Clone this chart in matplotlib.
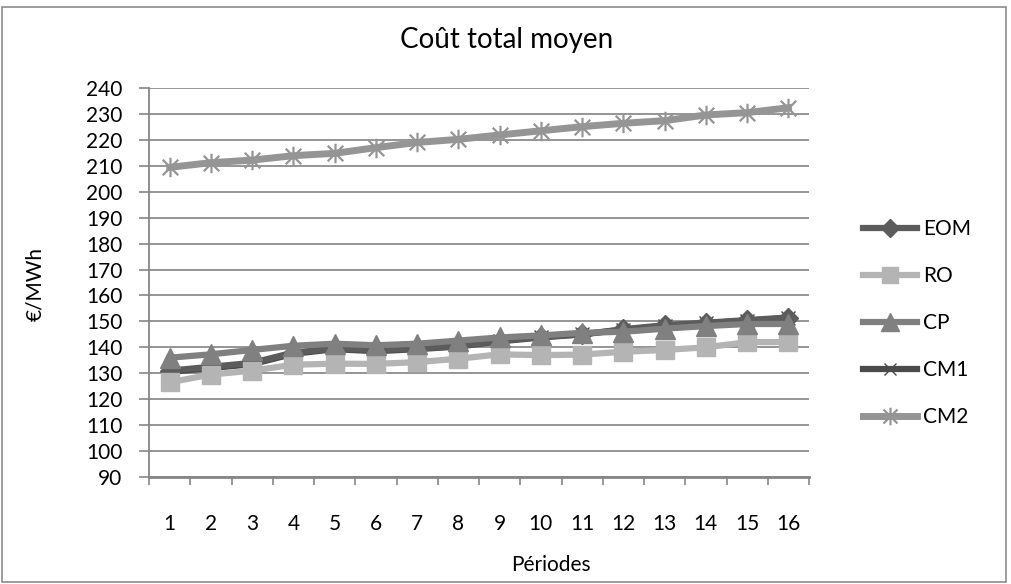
import matplotlib.pyplot as plt
import numpy as np
from matplotlib.path import Path
from matplotlib.patches import Rectangle

plt.rcParams['font.family'] = ['Lato', 'DejaVu Sans']

periodes = list(range(1, 17))
eom = [131, 132.5, 134, 138, 139.5, 139, 139.5, 140.5, 142.5, 144, 145, 147, 148.5, 149.5, 150.5, 151.5]
ro = [126.5, 129.5, 131, 133.3, 133.7, 133.6, 134.3, 135.6, 137.3, 137, 137.2, 138.3, 139, 140, 142, 142]
cp = [136, 137.3, 139, 140.6, 141.4, 140.8, 141.4, 142.6, 143.8, 144.6, 145.6, 146, 147.2, 148.2, 149, 149]
cm1 = [130.5, 132, 133.5, 137.5, 139.3, 138.5, 139.3, 140.3, 142.3, 143.8, 145, 146.8, 148.3, 149.3, 150.3, 151.3]
cm2 = [209.4, 211.2, 212.2, 213.9, 214.8, 217, 219, 220.2, 221.9, 223.5, 225.1, 226.4, 227.4, 229.6, 230.5, 232.4]
yticks = list(range(90, 241, 10))

# asterisk marker like excel: vertical bar + X
ast = Path([(0, -1), (0, 1), (-0.8, -0.8), (0.8, 0.8), (-0.8, 0.8), (0.8, -0.8)],
           [Path.MOVETO, Path.LINETO, Path.MOVETO, Path.LINETO, Path.MOVETO, Path.LINETO])

W, H = 1011, 584
fig = plt.figure(figsize=(W / 100, H / 100), dpi=100)
ax = fig.add_axes([149 / W, 1 - 477 / H, 660 / W, 389 / H])

x = np.array(periodes)
ax.plot(x, cm1, color='#4a4a4a', lw=4.5, marker='x', ms=10, mew=1.0, label='CM1', zorder=3)
ax.plot(x, eom, color='#5c5c5c', lw=4.5, marker='D', ms=10, label='EOM', zorder=3.5)
ax.plot(x, ro, color='#b4b4b4', lw=4.5, marker='s', ms=13.5, label='RO', zorder=4)
ax.plot(x, cp, color='#808080', lw=4.5, marker='^', ms=14, label='CP', zorder=5)
ax.plot(x, cm2, color='#959595', lw=5, marker=ast, ms=14, mew=1.6, label='CM2', zorder=6)

ax.set_xlim(0.5, 16.5)
ax.set_ylim(90, 240)
ax.set_yticks(yticks)
ax.set_xticks(x)
ax.set_xticks(np.arange(0.5, 17, 1), minor=True)
ax.tick_params(axis='x', which='major', length=0, pad=27, labelsize=15)
ax.tick_params(axis='x', which='minor', length=6, width=1.2, color='#868686', direction='out')
ax.tick_params(axis='y', length=7, width=1.2, color='#868686', labelsize=15, pad=12)
ax.grid(axis='y', color='#8c8c8c', lw=1.3, zorder=0)
ax.set_axisbelow(True)
for s in ['top', 'right']:
    ax.spines[s].set_visible(False)
ax.spines['left'].set_color('#868686')
ax.spines['left'].set_linewidth(1.3)
ax.spines['bottom'].set_color('#868686')
ax.spines['bottom'].set_linewidth(2)

fig.text(507 / W, 1 - 40 / H, 'Coût total moyen', ha='center', va='center', fontsize=20)
fig.text(35 / W, 1 - 284 / H, '€/MWh', ha='center', va='center', rotation=90, fontsize=15)
fig.text(551 / W, 1 - 565 / H, 'Périodes', ha='center', va='center', fontsize=15)

h, l = ax.get_legend_handles_labels()
order = ['EOM', 'RO', 'CP', 'CM1', 'CM2']
hs = [h[l.index(n)] for n in order]
fig.legend(hs, order, loc='upper left', bbox_to_anchor=(863 / W, 1 - 219 / H),
           frameon=False, fontsize=15, handlelength=2.6, handletextpad=0.3,
           labelspacing=1.3, borderpad=0, borderaxespad=0, markerscale=0.9)

fig.patches.append(Rectangle((2 / W, 2 / H), 1004 / W, 575 / H, transform=fig.transFigure,
                             fill=False, edgecolor='#8c8c8c', lw=1.2))

fig.savefig('out.png', dpi=100)
